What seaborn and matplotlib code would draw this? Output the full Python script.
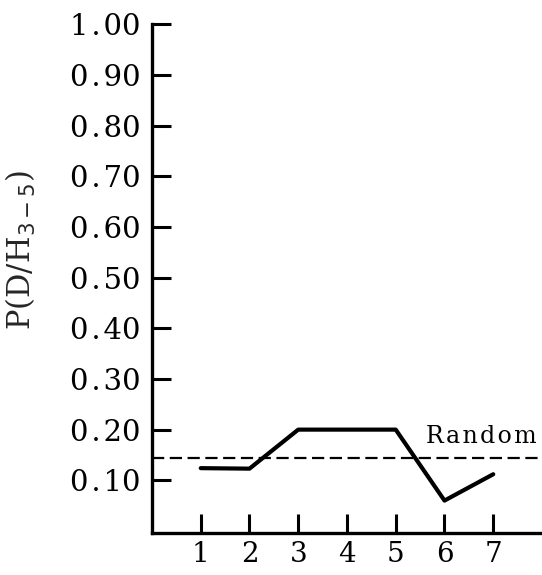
import matplotlib
matplotlib.use("Agg")
import matplotlib.pyplot as plt
import seaborn as sns
import pandas as pd

# values
trials = [1, 2, 3, 4, 5, 6, 7]
p_values = [0.124, 0.123, 0.200, 0.200, 0.200, 0.060, 0.112]
random_level = 0.145
y_ticks = [0.10, 0.20, 0.30, 0.40, 0.50, 0.60, 0.70, 0.80, 0.90, 1.00]

sns.set_style("ticks")
plt.rcParams['font.family'] = ['DejaVu Serif']

df = pd.DataFrame({"trial": trials, "p": p_values})

fig = plt.figure(figsize=(5.42, 5.75), dpi=100)
ax = fig.add_axes([0.2804, 0.073, 0.7196, 0.885])

sns.lineplot(data=df, x="trial", y="p", color="black", linewidth=3.0, ax=ax)
ax.axhline(random_level, color="black", linestyle=(0, (5.5, 2.5)), linewidth=1.6)

ax.text(7.9, random_level + 0.018, "\u200a".join("Random"), ha="right", va="bottom",
        fontsize=17, color="black")

ax.set_xlim(0, 8.0)
ax.set_ylim(-0.004, 1.0)
ax.set_xticks(trials)
ax.set_yticks(y_ticks)
ax.set_yticklabels([f"{v:.2f}".replace(".", "\u200a.\u200a") for v in y_ticks],
                   fontsize=21)
ax.set_xticklabels([str(t) for t in trials], fontsize=20)
ax.tick_params(axis="both", direction="in", length=14, width=2.2, colors="black")
ax.tick_params(axis="y", pad=8)
ax.tick_params(axis="x", pad=6)

sns.despine(ax=ax)
for s in ["left", "bottom"]:
    ax.spines[s].set_linewidth(2.4)
    ax.spines[s].set_color("black")

ax.set_xlabel("")
ax.set_ylabel(r"P(D/H$_{3-5}$)", fontsize=22)
ax.yaxis.set_label_coords(-0.292, 0.555)

fig.savefig("out.png", dpi=100, facecolor="white")
